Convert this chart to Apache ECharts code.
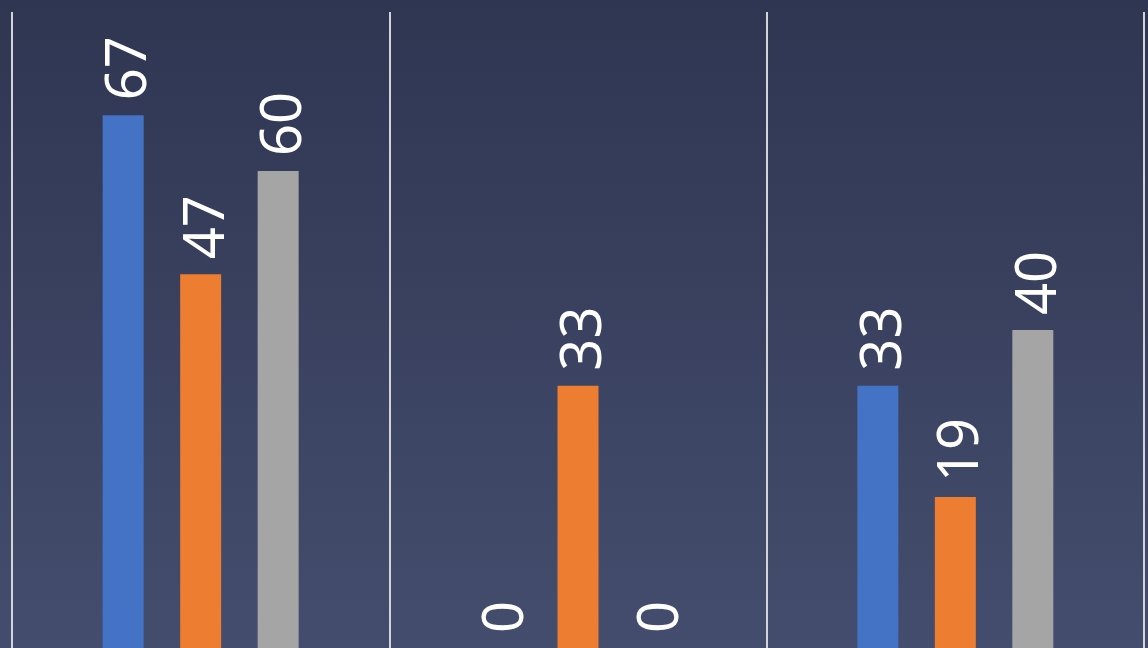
<!DOCTYPE html>
<html>
<head>
<meta charset="utf-8">
<script src="https://cdn.jsdelivr.net/npm/echarts@6/dist/echarts.min.js"></script>
<style>
  html, body { margin: 0; padding: 0; }
  #chart {
    width: 1148px; height: 648px;
    background: linear-gradient(to bottom, #2f3652 0%, #454d6e 100%);
  }
</style>
</head>
<body>
<div id="chart"></div>
<script>
// data
var categories = ['A', 'B', 'C'];
var seriesNames = ['系列1', '系列2', '系列3'];
var blueValues = [67, 0, 33];
var orangeValues = [47, 33, 19];
var grayValues = [60, 0, 40];
var colors = ['#4472c4', '#ed7d31', '#a5a5a5'];

var chart = echarts.init(document.getElementById('chart'));

function makeSeries(name, values, color) {
  return {
    name: name,
    type: 'bar',
    data: values,
    barWidth: 41,
    barGap: '89%',
    itemStyle: { color: color },
    label: {
      show: true,
      position: 'top',
      rotate: 90,
      align: 'left',
      verticalAlign: 'middle',
      distance: 16,
      offset: [-1, 7],
      color: '#ffffff',
      fontSize: 56,
      fontFamily: 'Noto Sans'
    }
  };
}

chart.setOption({
  backgroundColor: 'transparent',
  animation: false,
  grid: { left: 12, right: 4, top: 12, bottom: 0 },
  xAxis: {
    type: 'category',
    data: categories,
    axisLine: { show: false },
    axisTick: { show: false },
    axisLabel: { show: false },
    splitLine: { show: true, lineStyle: { color: '#d4d4d8', width: 2 } }
  },
  yAxis: {
    type: 'value',
    min: 0,
    max: 80,
    axisLine: { show: false },
    axisTick: { show: false },
    axisLabel: { show: false },
    splitLine: { show: false }
  },
  series: [
    makeSeries(seriesNames[0], blueValues, colors[0]),
    makeSeries(seriesNames[1], orangeValues, colors[1]),
    makeSeries(seriesNames[2], grayValues, colors[2])
  ]
});
</script>
</body>
</html>
